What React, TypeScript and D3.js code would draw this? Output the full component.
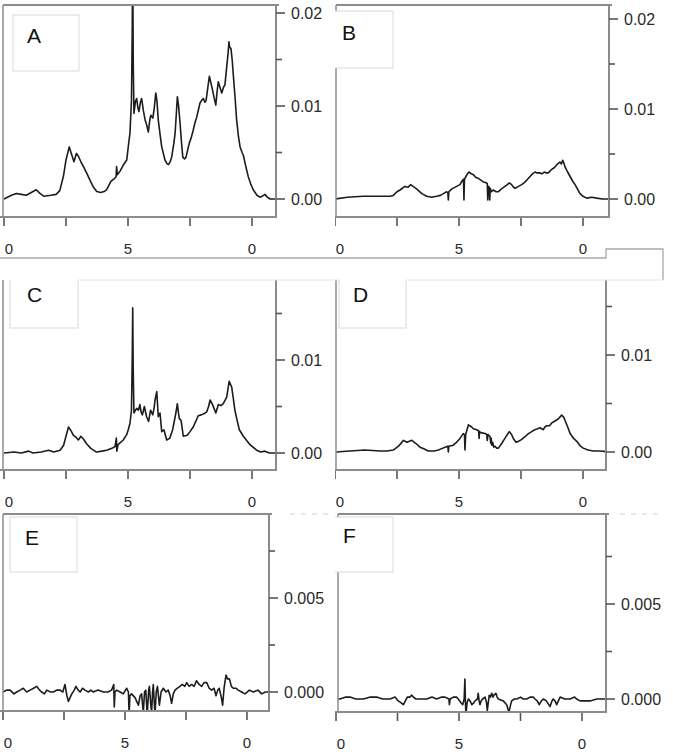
import React from 'react';
import { scaleLinear, line, format } from 'd3';

// chemical shift (ppm) vs intensity
const specA: [number, number][] = [
  [10.0, 0.0], [9.7, 0.0004], [9.5, 0.0006], [9.3, 0.0005], [9.1, 0.0004], [8.9, 0.0007],
  [8.7, 0.001], [8.55, 0.0006], [8.4, 0.0003], [8.1, 0.0004], [7.9, 0.0005], [7.75, 0.0009],
  [7.6, 0.0025], [7.5, 0.0042], [7.37, 0.0056], [7.25, 0.0046], [7.18, 0.004], [7.08, 0.0049],
  [7.0, 0.0046], [6.9, 0.004], [6.8, 0.0035], [6.65, 0.0027], [6.53, 0.002], [6.4, 0.0013],
  [6.26, 0.0008], [6.1, 0.0007], [5.96, 0.0008], [5.86, 0.001], [5.69, 0.0019], [5.55, 0.0022],
  [5.48, 0.0024], [5.46, 0.0035], [5.43, 0.0026], [5.32, 0.003], [5.2, 0.0036], [5.05, 0.0042],
  [4.99, 0.0056], [4.92, 0.0071], [4.86, 0.0106], [4.83, 0.018], [4.81, 0.026], [4.79, 0.015],
  [4.76, 0.0092], [4.7, 0.0105], [4.65, 0.0108], [4.6, 0.0098], [4.56, 0.0094], [4.5, 0.0104],
  [4.45, 0.0108], [4.38, 0.0095], [4.31, 0.0085], [4.25, 0.008], [4.18, 0.0072], [4.12, 0.0085],
  [4.08, 0.009], [4.0, 0.0087], [3.94, 0.0098], [3.88, 0.0114], [3.83, 0.0105], [3.78, 0.0085],
  [3.71, 0.007], [3.64, 0.0056], [3.51, 0.0042], [3.43, 0.0038], [3.37, 0.0037], [3.3, 0.004],
  [3.24, 0.0045], [3.15, 0.006], [3.1, 0.0071], [3.05, 0.0092], [3.01, 0.011], [2.96, 0.01],
  [2.9, 0.0081], [2.84, 0.006], [2.79, 0.0045], [2.72, 0.0043], [2.66, 0.0045], [2.6, 0.0052],
  [2.53, 0.006], [2.45, 0.0066], [2.37, 0.0074], [2.3, 0.0082], [2.23, 0.0088], [2.16, 0.0096],
  [2.1, 0.0103], [2.03, 0.0106], [1.96, 0.0108], [1.9, 0.0104], [1.85, 0.0106], [1.78, 0.012],
  [1.72, 0.0132], [1.66, 0.0125], [1.59, 0.0117], [1.52, 0.0108], [1.46, 0.0101], [1.41, 0.0115],
  [1.36, 0.0126], [1.29, 0.012], [1.22, 0.0114], [1.15, 0.012], [1.09, 0.0123], [1.02, 0.0142],
  [0.96, 0.0158], [0.93, 0.0169], [0.9, 0.0163], [0.85, 0.0162], [0.8, 0.015], [0.75, 0.0132],
  [0.68, 0.0108], [0.62, 0.0085], [0.55, 0.0068], [0.48, 0.0056], [0.4, 0.005], [0.35, 0.0047],
  [0.25, 0.0035], [0.15, 0.0024], [0.05, 0.0016], [-0.05, 0.001], [-0.2, 0.0004], [-0.32, 0.0002],
  [-0.42, 0.0003], [-0.52, 0.0005], [-0.62, 0.0002], [-0.73, 0.0], [-1.0, 0.0],
];

const specB: [number, number][] = [
  [10.0, 0.0], [9.5, 0.0002], [8.87, 0.0003], [8.3, 0.0003], [7.78, 0.0003], [7.65, 0.0004],
  [7.5, 0.0008], [7.38, 0.001], [7.18, 0.0014], [7.05, 0.0013], [6.95, 0.0016], [6.85, 0.0014],
  [6.7, 0.0011], [6.5, 0.0006], [6.3, 0.0003], [6.1, 0.0002], [5.9, 0.0003], [5.75, 0.0004],
  [5.63, 0.0006], [5.5, 0.0008], [5.45, 0.0007], [5.43, -0.0001], [5.41, 0.0008], [5.3, 0.0011],
  [5.1, 0.0014], [4.96, 0.0016], [4.88, 0.002], [4.82, 0.0022], [4.8, -0.0001], [4.78, 0.0022],
  [4.72, 0.0025], [4.66, 0.0028], [4.6, 0.003], [4.5, 0.0028], [4.42, 0.0027], [4.32, 0.0024],
  [4.22, 0.0023], [4.12, 0.0021], [4.02, 0.0019], [3.9, 0.0018], [3.86, 0.0017], [3.84, -0.0001],
  [3.82, 0.0014], [3.78, 0.0013], [3.76, -0.0001], [3.74, 0.0012], [3.7, 0.0008], [3.62, 0.001],
  [3.5, 0.0008], [3.42, 0.0008], [3.3, 0.0011], [3.15, 0.0014], [3.05, 0.0016], [2.97, 0.0018],
  [2.88, 0.0016], [2.8, 0.0013], [2.74, 0.0012], [2.6, 0.0014], [2.47, 0.0016], [2.33, 0.0019],
  [2.2, 0.0023], [2.07, 0.0027], [1.94, 0.003], [1.85, 0.0029], [1.73, 0.0029], [1.65, 0.0028],
  [1.56, 0.003], [1.48, 0.0029], [1.4, 0.0029], [1.26, 0.0033], [1.15, 0.0035], [1.06, 0.0038],
  [0.98, 0.004], [0.93, 0.0041], [0.87, 0.0039], [0.82, 0.0043], [0.77, 0.004], [0.73, 0.0036],
  [0.62, 0.003], [0.52, 0.0025], [0.42, 0.002], [0.32, 0.0016], [0.22, 0.0011], [0.12, 0.0006],
  [0.0, 0.0003], [-0.15, 0.0001], [-0.35, 0.0002], [-0.55, 0.0001], [-0.8, 0.0], [-1.05, 0.0],
];

const specC: [number, number][] = [
  [10.0, 0.0], [9.6, 0.0001], [9.3, 0.0], [9.0, 0.0002], [8.83, 0.0], [8.5, 0.0001],
  [8.2, 0.0003], [8.0, 0.0001], [7.74, 0.0003], [7.6, 0.0008], [7.54, 0.0014], [7.46, 0.0022],
  [7.4, 0.0028], [7.3, 0.0024], [7.2, 0.0019], [7.1, 0.0017], [7.0, 0.0014], [6.9, 0.0018],
  [6.8, 0.0015], [6.67, 0.001], [6.5, 0.0005], [6.27, 0.0001], [6.05, 0.0002], [5.86, 0.0003],
  [5.65, 0.0005], [5.52, 0.0007], [5.47, 0.0016], [5.45, 0.0002], [5.4, 0.0009], [5.19, 0.0014],
  [5.05, 0.002], [4.99, 0.0025], [4.92, 0.0032], [4.86, 0.0046], [4.83, 0.01], [4.81, 0.0156],
  [4.79, 0.009], [4.76, 0.0043], [4.7, 0.0046], [4.65, 0.0048], [4.58, 0.0046], [4.52, 0.0052],
  [4.47, 0.0044], [4.42, 0.0041], [4.34, 0.005], [4.25, 0.0039], [4.17, 0.0034], [4.09, 0.0046],
  [4.0, 0.0041], [3.95, 0.0048], [3.91, 0.0057], [3.84, 0.0066], [3.78, 0.0039], [3.71, 0.0043],
  [3.64, 0.0023], [3.55, 0.0025], [3.44, 0.0014], [3.31, 0.0016], [3.2, 0.0025], [3.15, 0.0032],
  [3.07, 0.0043], [3.01, 0.0053], [2.96, 0.0042], [2.93, 0.0037], [2.86, 0.0035], [2.77, 0.0018],
  [2.61, 0.0019], [2.5, 0.0023], [2.37, 0.0028], [2.25, 0.0035], [2.17, 0.004], [2.05, 0.0041],
  [1.96, 0.0042], [1.83, 0.0044], [1.75, 0.005], [1.69, 0.0057], [1.59, 0.0052], [1.46, 0.0043],
  [1.4, 0.0048], [1.36, 0.0052], [1.25, 0.0051], [1.16, 0.0053], [1.02, 0.006], [0.92, 0.0077],
  [0.82, 0.0071], [0.75, 0.0058], [0.69, 0.0046], [0.6, 0.0035], [0.51, 0.0025], [0.35, 0.0018],
  [0.2, 0.0013], [0.08, 0.0009], [-0.19, 0.0003], [-0.35, 0.0001], [-0.52, 0.0002], [-0.7, 0.0],
  [-1.0, 0.0],
];

const specD: [number, number][] = [
  [10.0, 0.0], [9.4, 0.0001], [8.8, 0.0002], [8.19, 0.0001], [7.9, 0.0001], [7.65, 0.0002],
  [7.44, 0.0006], [7.24, 0.0012], [7.1, 0.001], [6.9, 0.0012], [6.75, 0.0009], [6.57, 0.0005],
  [6.4, 0.0003], [6.24, 0.0001], [6.0, 0.0001], [5.83, 0.0002], [5.65, 0.0004], [5.56, 0.0005],
  [5.45, 0.0006], [5.43, 0.0], [5.41, 0.0006], [5.23, 0.0007], [5.1, 0.001], [4.96, 0.0014],
  [4.83, 0.0019], [4.78, 0.0018], [4.76, 0.0002], [4.73, 0.0018], [4.62, 0.0028], [4.5, 0.0026],
  [4.42, 0.0024], [4.29, 0.0023], [4.21, 0.0022], [4.19, 0.0014], [4.17, 0.0021], [4.12, 0.002],
  [3.95, 0.0019], [3.88, 0.0018], [3.86, 0.0012], [3.83, 0.0018], [3.75, 0.0016], [3.72, 0.0009],
  [3.7, 0.0014], [3.68, 0.0007], [3.64, 0.001], [3.6, 0.0005], [3.55, 0.0006], [3.48, 0.0004],
  [3.41, 0.0004], [3.3, 0.0008], [3.15, 0.0014], [3.05, 0.0018], [2.97, 0.0021], [2.88, 0.0018],
  [2.81, 0.0014], [2.7, 0.001], [2.6, 0.0011], [2.47, 0.0013], [2.33, 0.0016], [2.2, 0.0019],
  [2.07, 0.0021], [1.94, 0.0023], [1.83, 0.0024], [1.73, 0.0025], [1.6, 0.0023], [1.53, 0.0026],
  [1.46, 0.0027], [1.35, 0.0027], [1.26, 0.003], [1.13, 0.0032], [1.0, 0.0034], [0.86, 0.0038],
  [0.78, 0.0036], [0.73, 0.0033], [0.62, 0.0026], [0.52, 0.0019], [0.38, 0.0014], [0.25, 0.0011],
  [0.1, 0.0006], [-0.01, 0.0004], [-0.2, 0.0002], [-0.42, 0.0001], [-0.7, 0.0001], [-1.05, 0.0],
];

const specE: [number, number][] = [
  [10.0, 0.0], [9.85, 0.0001], [9.71, 0.0001], [9.55, -0.0001], [9.44, 0.0], [9.3, 0.0001],
  [9.17, 0.0002], [9.03, 0.0], [8.89, 0.0001], [8.75, 0.0002], [8.62, 0.0003], [8.5, 0.0001],
  [8.42, 0.0], [8.3, -0.0001], [8.21, 0.0001], [8.05, 0.0], [7.94, 0.0], [7.8, 0.0001],
  [7.66, 0.0001], [7.55, 0.0], [7.46, 0.0004], [7.38, -0.0002], [7.32, -0.0005], [7.25, -0.0003],
  [7.18, -0.0001], [7.08, 0.0001], [7.01, 0.0003], [6.92, 0.0001], [6.84, 0.0], [6.74, 0.0002],
  [6.64, 0.0001], [6.5, 0.0], [6.4, 0.0001], [6.3, 0.0], [6.1, 0.0001], [5.89, 0.0],
  [5.7, 0.0], [5.55, 0.0001], [5.46, 0.0004], [5.44, -0.0008], [5.41, 0.0], [5.34, 0.0001],
  [5.2, 0.0], [5.07, -0.0001], [4.93, 0.0002], [4.86, 0.0], [4.83, -0.0012], [4.8, -0.0002],
  [4.73, -0.0001], [4.59, -0.0003], [4.45, -0.0007], [4.38, -0.0002], [4.32, -0.0001], [4.25, -0.0011],
  [4.2, 0.0], [4.15, 0.0001], [4.09, -0.0012], [4.03, 0.0001], [4.0, 0.0003], [3.95, -0.0006],
  [3.91, -0.0011], [3.87, 0.0], [3.84, 0.0004], [3.8, -0.0006], [3.77, -0.0012], [3.72, 0.0],
  [3.67, 0.0003], [3.59, -0.0007], [3.52, 0.0], [3.43, 0.0002], [3.32, 0.0], [3.23, 0.0001],
  [3.15, -0.0002], [3.09, -0.0006], [3.02, -0.0001], [2.95, 0.0001], [2.85, 0.0002], [2.75, 0.0003],
  [2.65, 0.0004], [2.55, 0.0003], [2.47, 0.0005], [2.37, 0.0003], [2.27, 0.0004], [2.17, 0.0003],
  [2.07, 0.0006], [1.96, 0.0004], [1.86, 0.0003], [1.76, 0.0005], [1.65, 0.0005], [1.55, 0.0002],
  [1.45, 0.0001], [1.35, 0.0002], [1.27, -0.0002], [1.2, 0.0001], [1.14, 0.0002], [1.05, -0.0003],
  [1.0, -0.0007], [0.94, 0.0002], [0.86, 0.0009], [0.8, 0.0007], [0.72, 0.0007], [0.64, 0.0003],
  [0.56, 0.0002], [0.46, 0.0002], [0.36, 0.0001], [0.22, 0.0], [0.08, -0.0001], [-0.1, 0.0001],
  [-0.26, 0.0], [-0.45, 0.0001], [-0.6, -0.0001], [-0.75, 0.0], [-0.95, 0.0],
];

const specF: [number, number][] = [
  [10.0, 0.0], [9.84, 0.0], [9.6, 0.0001], [9.43, 0.0001], [9.2, 0.0], [8.89, 0.0],
  [8.6, 0.0001], [8.35, 0.0001], [8.1, 0.0], [7.8, 0.0], [7.6, 0.0001], [7.47, -0.0001],
  [7.35, -0.0002], [7.26, -0.0003], [7.18, -0.0001], [7.1, 0.0001], [7.0, 0.0001], [6.92, 0.0002],
  [6.85, 0.0001], [6.75, 0.0], [6.5, 0.0], [6.31, 0.0], [6.1, 0.0001], [5.91, 0.0],
  [5.7, 0.0001], [5.57, 0.0001], [5.41, 0.0], [5.39, -0.0003], [5.36, 0.0], [5.23, 0.0001],
  [5.1, 0.0001], [5.03, 0.0], [4.92, -0.0002], [4.85, -0.0003], [4.79, 0.0], [4.76, 0.00105],
  [4.74, -0.0001], [4.72, -0.0008], [4.67, -0.0002], [4.62, 0.0], [4.55, -0.0001], [4.48, -0.0003],
  [4.4, -0.0002], [4.35, -0.0001], [4.25, 0.0], [4.22, 0.0003], [4.18, -0.0001], [4.15, -0.0003],
  [4.1, -0.0001], [4.04, 0.0], [3.94, 0.0001], [3.88, -0.0002], [3.85, -0.0006], [3.8, -0.0001],
  [3.77, 0.0002], [3.72, 0.0001], [3.67, 0.0003], [3.62, 0.0001], [3.58, 0.0002], [3.5, 0.0003],
  [3.45, 0.0001], [3.4, 0.0], [3.2, -0.0001], [3.06, -0.0003], [2.97, -0.0007], [2.92, -0.0004],
  [2.86, -0.0001], [2.75, 0.0], [2.65, 0.0], [2.5, 0.0001], [2.39, 0.0], [2.25, 0.0],
  [2.11, 0.0001], [1.98, 0.0001], [1.91, 0.0], [1.82, -0.0001], [1.74, -0.0003], [1.65, -0.0001],
  [1.57, 0.0], [1.45, -0.0001], [1.3, -0.0004], [1.22, -0.0001], [1.17, 0.0], [1.1, -0.0001],
  [1.03, -0.0003], [0.96, -0.0001], [0.89, 0.0001], [0.7, 0.0], [0.49, 0.0], [0.3, 0.0001],
  [0.22, 0.0], [0.08, -0.0001], [-0.1, -0.0001], [-0.33, -0.0001], [-0.6, 0.0], [-0.87, 0.0],
  [-1.0, 0.0],
];

const panelLetters = ['A', 'B', 'C', 'D', 'E', 'F'];
const xTicks = [10, 7.5, 5, 2.5, 0];
const xTickLabels = [10, 5, 0];
// the figure is cropped on the left, so only the "0" of the 10 label shows
const xTickText = ['0', '5', '0'];
const yMajorTop = [0, 0.01, 0.02];
const yMajorMid = [0, 0.01];
const yMajorLow = [0, 0.005];
const yMinorTop = [0.005, 0.015];
const yMinorLow = [0.0025, 0.0075];

const W = 673;
const H = 756;
const frameCol = '#8c8c8c';
const tickCol = '#555';
const textCol = '#2a2a2a';
const boxCol = '#dadada';
const font = '"Liberation Sans", Arial, sans-serif';

// layout of each panel (pixel positions of the plot frame & axes)
const layouts = [
  { clipX: 0, clipY: 0, x10: 4, x0: 252, l: 3, r: 276, t: 5, b: 217, topLine: true, y0: 199, yRef: 0.02, yRefPx: 13,
    major: yMajorTop, minor: yMinorTop, fmt: '.2f', box: [13, 15, 66, 56], letter: [27, 43] },
  { clipX: 335, clipY: 0, x10: 335, x0: 583, l: 336, r: 609, t: 5, b: 217, topLine: true, y0: 199, yRef: 0.02, yRefPx: 19,
    major: yMajorTop, minor: yMinorTop, fmt: '.2f', box: [330, 11, 63, 57], letter: [342, 40] },
  { clipX: 0, clipY: 280, x10: 4, x0: 252, l: 3, r: 276, t: 280, b: 470, topLine: false, y0: 453, yRef: 0.01, yRefPx: 360,
    major: yMajorMid, minor: yMinorTop, fmt: '.2f', box: [10, 270, 68, 58], letter: [27, 302] },
  { clipX: 335, clipY: 280, x10: 335, x0: 583, l: 336, r: 606, t: 280, b: 470, topLine: false, y0: 452, yRef: 0.01, yRefPx: 355,
    major: yMajorMid, minor: yMinorTop, fmt: '.2f', box: [339, 270, 67, 58], letter: [353, 302] },
  { clipX: 0, clipY: 510, x10: 3, x0: 247, l: 3, r: 269, t: 514, b: 711, topLine: true, y0: 692, yRef: 0.005, yRefPx: 598,
    major: yMajorLow, minor: yMinorLow, fmt: '.3f', box: [10, 517, 67, 55], letter: [25, 545] },
  { clipX: 335, clipY: 510, x10: 336, x0: 582, l: 338, r: 606, t: 514, b: 712, topLine: true, y0: 699, yRef: 0.005, yRefPx: 604,
    major: yMajorLow, minor: yMinorLow, fmt: '.3f', box: [330, 517, 63, 55], letter: [343, 543] },
];

const spectra = [specA, specB, specC, specD, specE, specF];

function Panel({ idx }: { idx: number }) {
  const p = layouts[idx];
  const data = spectra[idx];
  const x = scaleLinear().domain([10, 0]).range([p.x10, p.x0]);
  const y = scaleLinear().domain([0, p.yRef]).range([p.y0, p.yRefPx]);
  const path = line<[number, number]>().x(d => x(d[0])).y(d => y(d[1]))(data) || '';
  const f = format(p.fmt);
  const clipId = `panel-${idx}`;
  const plotId = `plot-${idx}`;
  return (
    <g clipPath={`url(#${clipId})`}>
      <defs>
        <clipPath id={clipId}>
          <rect x={p.clipX} y={p.clipY} width={W - p.clipX} height={H - p.clipY} />
        </clipPath>
        <clipPath id={plotId}>
          <rect x={p.l} y={p.t} width={p.r - p.l} height={p.b - p.t} />
        </clipPath>
      </defs>
      <path d={path} fill="none" stroke="#1c1c1c" strokeWidth={1.6} strokeLinejoin="round"
        clipPath={`url(#${plotId})`} />
      {/* frame */}
      {p.topLine && <line x1={p.l} x2={p.r + 3} y1={p.t} y2={p.t} stroke={frameCol} strokeWidth={2} />}
      <line x1={p.l} x2={p.l} y1={p.t} y2={p.b} stroke={frameCol} strokeWidth={1.5} />
      <line x1={p.r} x2={p.r} y1={p.t} y2={p.b + 1} stroke={frameCol} strokeWidth={2} />
      <line x1={p.l - 3} x2={p.r + 1} y1={p.b} y2={p.b} stroke={frameCol} strokeWidth={2} />
      {/* bottom axis */}
      {xTicks.map(t => (
        <line key={t} x1={x(t)} x2={x(t)} y1={p.b + 1} y2={p.b + 9} stroke={tickCol} strokeWidth={1.6} />
      ))}
      {xTickLabels.map((t, i) => (
        <text key={t} x={x(t) + (t === 10 ? 5 : 0)} y={p.b + 37} textAnchor="middle" fontSize={15}
          fontFamily={font} fill={textCol}>{xTickText[i]}</text>
      ))}
      {/* right axis */}
      {p.major.map(t => (
        <g key={t}>
          <line x1={p.r} x2={p.r + 9} y1={y(t)} y2={y(t)} stroke={tickCol} strokeWidth={1.6} />
          <text x={p.r + 15} y={y(t)} dy="0.36em" fontSize={16} fontFamily={font} fill={textCol}>{f(t)}</text>
        </g>
      ))}
      {p.minor.map(t => (
        <line key={t} x1={p.r} x2={p.r + 6} y1={y(t)} y2={y(t)} stroke={tickCol} strokeWidth={1.6} />
      ))}
      {/* panel label */}
      <rect x={p.box[0]} y={p.box[1]} width={p.box[2]} height={p.box[3]} fill="#fff" stroke={boxCol} strokeWidth={1} />
      <text x={p.letter[0]} y={p.letter[1]} fontSize={21} fontFamily={font} fill="#111">{panelLetters[idx]}</text>
    </g>
  );
}

export default function App() {
  return (
    <svg width={W} height={H} style={{ position: 'absolute', left: 0, top: 0, background: '#fff' }}>
      <rect x={0} y={0} width={W} height={H} fill="#fff" />
      {layouts.map((_, i) => <Panel key={i} idx={i} />)}
      {/* leftover edges from the composited figure */}
      <polyline points="0,258 606,258 606,249 663,249 663,280" fill="none" stroke="#a8a8a8" strokeWidth={1.3} />
      <line x1={78} x2={339} y1={280} y2={280} stroke="#e4e4e4" strokeWidth={1} />
      <line x1={406} x2={663} y1={280} y2={280} stroke="#e4e4e4" strokeWidth={1} />
      <line x1={290} x2={330} y1={514} y2={514} stroke="#cfcfcf" strokeWidth={1} strokeDasharray="5 6" />
      <line x1={620} x2={662} y1={514} y2={514} stroke="#cfcfcf" strokeWidth={1} strokeDasharray="5 6" />
    </svg>
  );
}
